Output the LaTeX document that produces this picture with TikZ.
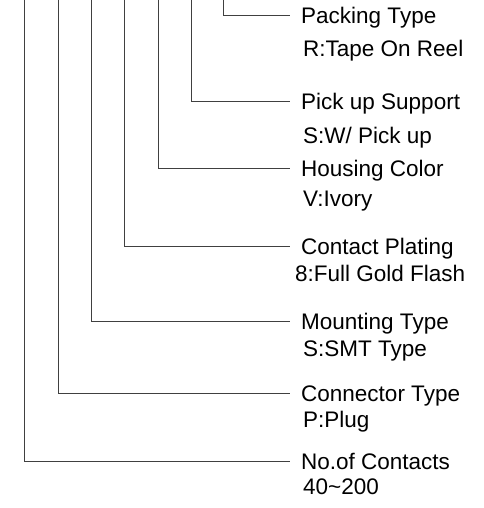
\documentclass[tikz,border=0pt]{standalone}
\usepackage{fontspec}
\setmainfont{Liberation Sans}
\begin{document}
\begin{tikzpicture}[x=1pt,y=-1pt,
  lead/.style={draw=black!75,line width=1pt},
  title/.style={anchor=west,inner sep=0pt,text height=16pt,text depth=0pt,font=\fontsize{22.5}{27}\selectfont},
  value/.style={anchor=base west,inner sep=0pt,font=\fontsize{22.5}{27}\selectfont}]
\useasboundingbox (0,0) rectangle (483,508);
% tops of the leads
\coordinate (c1) at (223,0);
\coordinate (c2) at (191,0);
\coordinate (c3) at (158,0);
\coordinate (c4) at (124,0);
\coordinate (c5) at (91,0);
\coordinate (c6) at (58,0);
\coordinate (c7) at (24,0);
% titles
\node[title] (t1) at (301,16) {Packing Type};
\node[title] (t2) at (301,102) {Pick up Support};
\node[title] (t3) at (301,168) {Housing Color};
\node[title] (t4) at (301,246) {Contact Plating};
\node[title] (t5) at (301,321) {Mounting Type};
\node[title] (t6) at (301,393) {Connector Type};
\node[title] (t7) at (301,461) {No.of Contacts};
% values
\node[value] (v1) at (303,57) {R:Tape On Reel};
\node[value] (v2) at (303,143) {S:W/ Pick up};
\node[value] (v3) at (303,206) {V:Ivory};
\node[value] (v4) at (295,281) {8:Full Gold Flash};
\node[value] (v5) at (303,356) {S:SMT Type};
\node[value] (v6) at (303,427) {P:Plug};
\node[value] (v7) at (303,494) {40\textasciitilde200};
% leads
\draw[lead] (c1) |- ([xshift=-11pt]t1.west);
\draw[lead] (c2) |- ([xshift=-11pt]t2.west);
\draw[lead] (c3) |- ([xshift=-11pt]t3.west);
\draw[lead] (c4) |- ([xshift=-11pt]t4.west);
\draw[lead] (c5) |- ([xshift=-11pt]t5.west);
\draw[lead] (c6) |- ([xshift=-11pt]t6.west);
\draw[lead] (c7) |- ([xshift=-11pt]t7.west);
\end{tikzpicture}
\end{document}
